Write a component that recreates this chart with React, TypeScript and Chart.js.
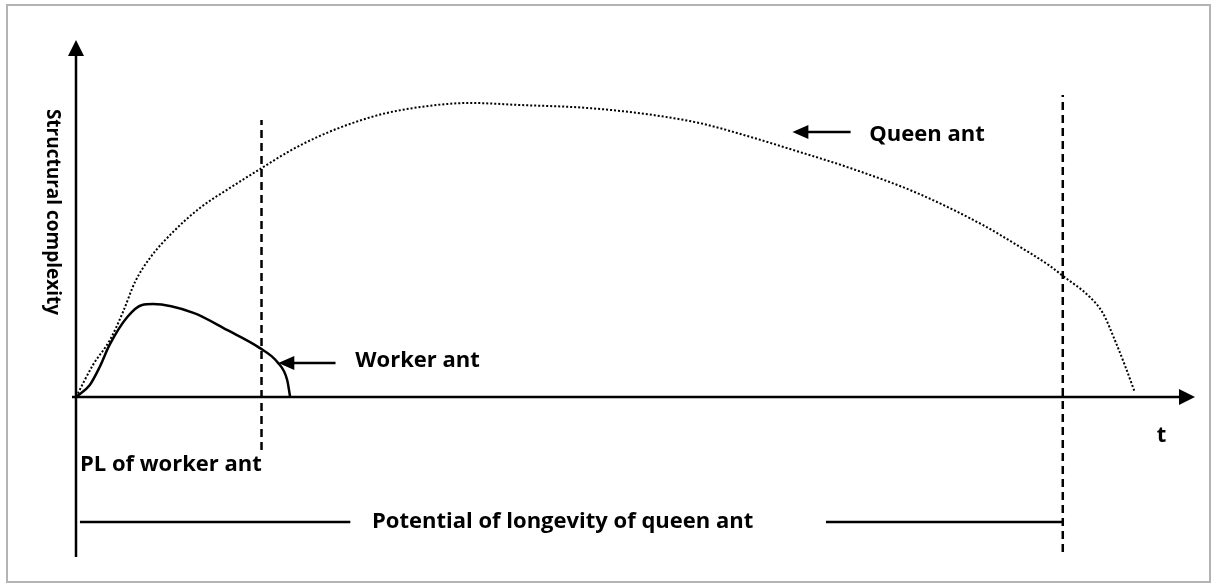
import React, { useEffect, useRef } from "react";
import { Chart, registerables } from "chart.js";

Chart.register(...registerables);

// Time axis (t): 0 = origin, 100 = potential longevity of queen ant
// Value axis: structural complexity, 100 = peak of queen ant
const QUEEN_T = [0, 1.72, 3.44, 4.76, 5.98, 7.5, 9.83, 12.56, 15.6, 18.84, 21.68, 24.72, 28.06, 31.51, 36.58, 39.92, 44.98, 51.77, 58.46, 63.53, 67.27, 73.35, 78.42, 85.21, 91.89, 95.34, 98.68, 100, 102.74, 104.05, 105.27, 106.28, 107.29];
const QUEEN_V = [0, 10.9, 19.4, 28.9, 39.1, 47.3, 56.1, 64.3, 71.1, 77.9, 83.7, 88.8, 93.2, 96.6, 99.3, 100, 99.3, 98.3, 95.9, 92.9, 89.5, 83.3, 77.9, 69.4, 58.5, 51.7, 44.6, 41.2, 34.0, 28.6, 19.4, 10.9, 1.7];

const WORKER_T = [0, 1.4, 2.4, 3.4, 5.2, 6.7, 7.8, 11.9, 15.3, 18.6, 20.4, 21.4, 21.7];
const WORKER_V = [0, 4.1, 10.2, 17.7, 27.2, 31.3, 31.6, 28.6, 22.8, 16.7, 11.9, 5.8, 0];

const WORKER_PL_T = 18.8;
const WORKER_PL_RANGE = [-18, 94.2];
const QUEEN_PL_T = 100;
const QUEEN_PL_RANGE = [-52.7, 102.7];

const LONGEVITY_V = -42.5;
const LONGEVITY_SEGMENTS = [
  [0.4, 27.8],
  [76, 100],
];

const Y_LABEL = "Structural complexity";
const X_LABEL = "t";
const QUEEN_LABEL = "Queen ant";
const WORKER_LABEL = "Worker ant";
const WORKER_PL_LABEL = "PL of worker ant";
const QUEEN_PL_LABEL = "Potential of longevity of queen ant";

const X_MAX = 113.4;
const Y_MAX = 121.4;
const Y_AXIS_BOTTOM = -54.4;

const FONT = "bold 22px 'Open Sans', 'Noto Sans', sans-serif";
const Y_FONT = "bold 19px 'Open Sans', 'Noto Sans', sans-serif";

function pts(xs: number[], ys: number[]) {
  return xs.map((x, i) => ({ x, y: ys[i] }));
}

const diagramPlugin = {
  id: "diagram",
  beforeDraw(chart: any) {
    const ctx = chart.ctx;
    ctx.save();
    ctx.fillStyle = "#ffffff";
    ctx.fillRect(0, 0, chart.width, chart.height);
    ctx.strokeStyle = "#b4b4b4";
    ctx.lineWidth = 2;
    ctx.strokeRect(7, 5, 1203, 577);
    ctx.restore();
  },
  afterDatasetsDraw(chart: any) {
    const ctx = chart.ctx;
    const xs = chart.scales.x;
    const ys = chart.scales.y;
    const px = (t: number) => xs.getPixelForValue(t);
    const py = (v: number) => ys.getPixelForValue(v);
    const area = chart.chartArea;
    ctx.save();
    ctx.strokeStyle = "#000";
    ctx.fillStyle = "#000";
    ctx.lineWidth = 2.5;
    ctx.setLineDash([]);

    // y axis
    const ax = px(0);
    ctx.beginPath();
    ctx.moveTo(ax, py(Y_AXIS_BOTTOM));
    ctx.lineTo(ax, area.top + 14);
    ctx.stroke();
    ctx.beginPath();
    ctx.moveTo(ax, area.top);
    ctx.lineTo(ax - 8, area.top + 16);
    ctx.lineTo(ax + 8, area.top + 16);
    ctx.closePath();
    ctx.fill();

    // x axis
    const ay = py(0);
    ctx.beginPath();
    ctx.moveTo(ax - 4, ay);
    ctx.lineTo(area.right - 14, ay);
    ctx.stroke();
    ctx.beginPath();
    ctx.moveTo(area.right, ay);
    ctx.lineTo(area.right - 16, ay - 8);
    ctx.lineTo(area.right - 16, ay + 8);
    ctx.closePath();
    ctx.fill();

    // pointer arrows
    const arrow = (tipT: number, tailT: number, v: number) => {
      const tx = px(tipT);
      const y = py(v);
      ctx.beginPath();
      ctx.moveTo(tx + 12, y);
      ctx.lineTo(px(tailT), y);
      ctx.stroke();
      ctx.beginPath();
      ctx.moveTo(tx, y);
      ctx.lineTo(tx + 16, y - 7);
      ctx.lineTo(tx + 16, y + 7);
      ctx.closePath();
      ctx.fill();
    };
    arrow(72.6, 78.5, 90.1);
    arrow(20.5, 26.3, 11.6);

    // texts
    ctx.font = FONT;
    ctx.textBaseline = "alphabetic";
    ctx.textAlign = "left";
    ctx.fillText(QUEEN_LABEL, px(80.4), 141);
    ctx.fillText(WORKER_LABEL, px(28.3), 367);
    ctx.fillText(WORKER_PL_LABEL, px(0.4), 471);
    ctx.fillText(QUEEN_PL_LABEL, px(30), 528);
    ctx.textAlign = "center";
    ctx.fillText(X_LABEL, px(110), 442);

    ctx.save();
    ctx.font = Y_FONT;
    ctx.translate(47, 212);
    ctx.rotate(Math.PI / 2);
    ctx.textAlign = "center";
    ctx.fillText(Y_LABEL, 0, 0);
    ctx.restore();

    ctx.restore();
  },
};

export default function App() {
  const ref = useRef<HTMLCanvasElement | null>(null);
  useEffect(() => {
    if (!ref.current) return;
    const dashed = {
      borderColor: "#000",
      borderWidth: 2.5,
      borderDash: [8, 5],
      pointRadius: 0,
      clip: false,
      tension: 0,
    };
    const solid = {
      borderColor: "#000",
      borderWidth: 2.5,
      pointRadius: 0,
      clip: false,
      tension: 0,
    };
    const chart = new Chart(ref.current, {
      type: "line",
      data: {
        datasets: [
          {
            label: QUEEN_LABEL,
            data: pts(QUEEN_T, QUEEN_V),
            borderColor: "#000",
            borderWidth: 2,
            borderDash: [2, 2],
            pointRadius: 0,
            cubicInterpolationMode: "monotone",
            clip: false,
          },
          {
            label: WORKER_LABEL,
            data: pts(WORKER_T, WORKER_V),
            borderColor: "#000",
            borderWidth: 2.5,
            pointRadius: 0,
            cubicInterpolationMode: "monotone",
            clip: false,
          },
          {
            label: "PL worker",
            data: [
              { x: WORKER_PL_T, y: WORKER_PL_RANGE[0] },
              { x: WORKER_PL_T, y: WORKER_PL_RANGE[1] },
            ],
            ...dashed,
          },
          {
            label: "PL queen",
            data: [
              { x: QUEEN_PL_T, y: QUEEN_PL_RANGE[0] },
              { x: QUEEN_PL_T, y: QUEEN_PL_RANGE[1] },
            ],
            ...dashed,
          },
          ...LONGEVITY_SEGMENTS.map((s, i) => ({
            label: "longevity " + i,
            data: [
              { x: s[0], y: LONGEVITY_V },
              { x: s[1], y: LONGEVITY_V },
            ],
            ...solid,
          })),
        ] as any,
      },
      options: {
        animation: false,
        responsive: false,
        devicePixelRatio: 1,
        layout: { padding: { left: 76, right: 21, top: 40, bottom: 190 } },
        plugins: { legend: { display: false }, tooltip: { enabled: false }, title: { display: false } },
        scales: {
          x: { type: "linear", min: 0, max: X_MAX, display: false },
          y: { type: "linear", min: 0, max: Y_MAX, display: false },
        },
      },
      plugins: [diagramPlugin],
    });
    return () => chart.destroy();
  }, []);
  return (
    <div style={{ position: "absolute", left: 0, top: 0, width: 1216, height: 587 }}>
      <canvas ref={ref} width={1216} height={587} />
    </div>
  );
}
